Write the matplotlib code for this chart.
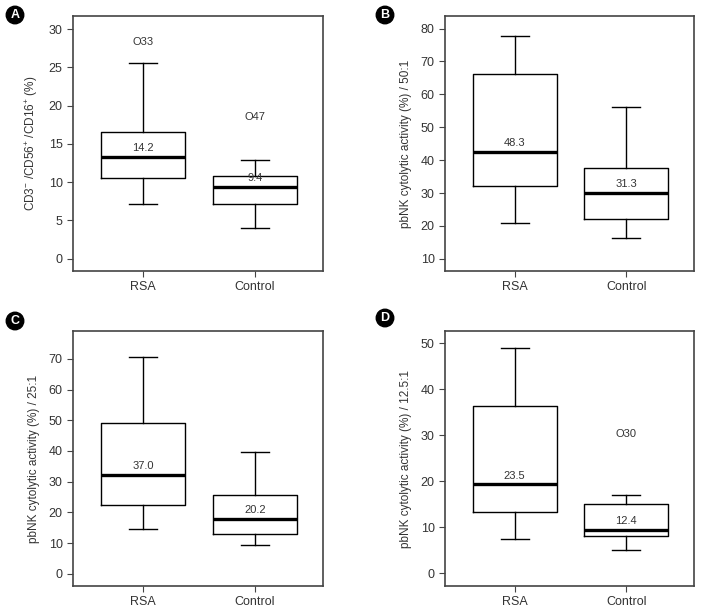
import matplotlib
matplotlib.use("Agg")
import matplotlib.pyplot as plt

plt.rcParams["font.family"] = ["Liberation Sans", "DejaVu Sans"]
plt.rcParams["mathtext.fontset"] = "custom"
plt.rcParams["mathtext.rm"] = "Liberation Sans"
plt.rcParams["mathtext.it"] = "Liberation Sans:italic"

groups = ["RSA", "Control"]

# panel A: CD3-/CD56+/CD16+ (%)
a_whislo = [7.1, 4.0]
a_q1 = [10.5, 7.2]
a_med = [13.3, 9.4]
a_q3 = [16.6, 10.8]
a_whishi = [25.6, 12.9]
a_mean = [14.2, 9.4]
a_outliers = [(1, 28.3, "33"), (2, 18.5, "47")]

# panel B: cytolytic activity 50:1
b_whislo = [21.0, 16.2]
b_q1 = [32.2, 22.2]
b_med = [42.5, 30.1]
b_q3 = [66.2, 37.7]
b_whishi = [77.6, 56.1]
b_mean = [48.3, 31.3]
b_outliers = []

# panel C: cytolytic activity 25:1
c_whislo = [14.7, 9.3]
c_q1 = [22.3, 13.0]
c_med = [32.3, 17.9]
c_q3 = [49.2, 25.6]
c_whishi = [70.7, 39.7]
c_mean = [37.0, 20.2]
c_outliers = []

# panel D: cytolytic activity 12.5:1
d_whislo = [7.4, 5.1]
d_q1 = [13.3, 8.0]
d_med = [19.35, 9.4]
d_q3 = [36.4, 15.1]
d_whishi = [49.1, 17.1]
d_mean = [23.5, 12.4]
d_outliers = [(2, 30.2, "30")]

panels = [
    dict(letter="A", rect=(73, 16, 250, 255), ylim=(-1.6, 31.7), yticks=range(0, 31, 5),
         ylabel=r"CD3$^{-}$ /CD56$^{+}$ /CD16$^{+}$ (%)",
         stats=(a_whislo, a_q1, a_med, a_q3, a_whishi), mean=a_mean, out=a_outliers,
         badge=(15, 15)),
    dict(letter="B", rect=(445, 16, 249, 255), ylim=(6.3, 83.8), yticks=range(10, 81, 10),
         ylabel="pbNK cytolytic activity (%) / 50:1",
         stats=(b_whislo, b_q1, b_med, b_q3, b_whishi), mean=b_mean, out=b_outliers,
         badge=(385, 15)),
    dict(letter="C", rect=(73, 331, 250, 255), ylim=(-4.0, 79.1), yticks=range(0, 71, 10),
         ylabel="pbNK cytolytic activity (%) / 25:1",
         stats=(c_whislo, c_q1, c_med, c_q3, c_whishi), mean=c_mean, out=c_outliers,
         badge=(15, 321)),
    dict(letter="D", rect=(445, 331, 249, 255), ylim=(-2.8, 52.7), yticks=range(0, 51, 10),
         ylabel="pbNK cytolytic activity (%) / 12.5:1",
         stats=(d_whislo, d_q1, d_med, d_q3, d_whishi), mean=d_mean, out=d_outliers,
         badge=(385, 318)),
]

W, H = 702, 613
fig = plt.figure(figsize=(W / 100, H / 100), dpi=100)
fig.patch.set_facecolor("white")

frame_col = "#444444"
text_col = "#333333"

for p in panels:
    left, top, w, h = p["rect"]
    ax = fig.add_axes([left / W, (H - top - h) / H, w / W, h / H])
    whislo, q1, med, q3, whishi = p["stats"]
    bstats = []
    for i, g in enumerate(groups):
        bstats.append(dict(label=g, whislo=whislo[i], q1=q1[i], med=med[i],
                           q3=q3[i], whishi=whishi[i], fliers=[]))
    ax.bxp(bstats, positions=[1, 2], widths=0.75, showfliers=False,
           boxprops=dict(color="black", linewidth=1.0),
           whiskerprops=dict(color="black", linewidth=1.0),
           capprops=dict(color="black", linewidth=1.0),
           medianprops=dict(color="black", linewidth=2.4),
           capwidths=0.25)
    for i, m in enumerate(p["mean"]):
        ax.annotate(f"{m:.1f}", (i + 1, med[i]), xytext=(0, 2.5),
                    textcoords="offset points", ha="center", va="bottom",
                    fontsize=8, color=text_col)
    for x, y, lab in p["out"]:
        ax.text(x, y, "O" + lab, ha="center", va="center", fontsize=8, color=text_col)

    ax.set_xlim(0.375, 2.607)
    ax.set_ylim(*p["ylim"])
    ax.set_yticks(list(p["yticks"]))
    ax.set_xticks([1, 2])
    ax.set_xticklabels(groups)
    ax.tick_params(axis="both", direction="out", length=4, width=0.8,
                   colors=frame_col, labelcolor=text_col, labelsize=9)
    ax.set_ylabel(p["ylabel"], fontsize=8.5, color=text_col, labelpad=6)
    for s in ax.spines.values():
        s.set_color(frame_col)
        s.set_linewidth(1.2)

    bx, by = p["badge"]
    fig.text(bx / W, 1 - by / H, p["letter"], ha="center", va="center",
             fontsize=9, fontweight="bold", color="white",
             bbox=dict(boxstyle="circle,pad=0.22", fc="black", ec="black"))

fig.savefig("out.png", dpi=100, facecolor="white")
